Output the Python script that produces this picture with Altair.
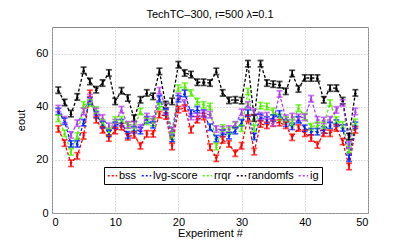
import altair as alt
import pandas as pd

methods = ["bss", "lvg-score", "rrqr", "randomfs", "ig"]
colors = ["#ff0000", "#0022ff", "#55ee00", "#000000", "#b040f0"]
shapes = ["triangle-down", "triangle-up", "triangle-up", "triangle-up", "triangle-up"]

experiments = list(range(1, 49))

bss = [31.6, 26.3, 18.7, 21.5, 29.0, 45.0, 35.1, 31.3, 28.2, 31.0,
       32.5, 28.7, 29.4, 25.3, 29.8, 29.8, 37.0, 36.5, 25.0, 38.9,
       39.5, 31.3, 35.1, 36.3, 24.8, 20.6, 27.5, 26.0, 22.5, 25.3,
       35.7, 23.1, 33.5, 33.0, 33.8, 34.0, 33.0, 28.5, 32.0, 30.0,
       28.2, 25.6, 30.0, 30.0, 32.0, 26.9, 17.5, 31.3]
lvg = [38.2, 34.5, 26.0, 26.0, 34.0, 42.2, 37.0, 33.2, 30.0, 33.0,
       34.0, 29.4, 31.3, 31.0, 35.1, 33.2, 42.9, 38.0, 28.0, 43.0,
       45.0, 37.6, 38.9, 37.6, 32.3, 28.0, 30.0, 29.1, 31.0, 34.0,
       37.6, 28.8, 36.0, 35.0, 35.7, 37.3, 33.8, 32.6, 35.1, 31.9,
       30.6, 30.6, 31.3, 33.0, 33.8, 32.0, 20.6, 33.0]
rrqr = [35.6, 30.0, 23.0, 29.0, 40.7, 41.4, 38.8, 34.1, 30.6, 35.0,
        35.1, 33.0, 32.0, 38.2, 34.5, 34.0, 40.1, 40.0, 29.0, 47.0,
        47.7, 45.2, 42.0, 40.7, 40.1, 25.0, 32.0, 31.0, 33.0, 31.9,
        45.7, 31.9, 40.4, 40.1, 38.2, 36.0, 35.0, 34.0, 39.5, 36.3,
        32.5, 33.0, 33.0, 41.4, 35.0, 33.2, 24.0, 34.1]
randomfs = [46.2, 41.6, 37.4, 43.7, 53.7, 49.5, 46.4, 48.9, 52.7, 42.0,
            46.0, 43.3, 35.7, 42.6, 45.2, 43.9, 53.3, 40.8, 42.0, 55.8,
            52.7, 52.1, 49.2, 49.2, 48.9, 53.3, 45.2, 42.4, 42.6, 42.3,
            56.2, 35.7, 56.2, 48.9, 48.5, 48.3, 45.8, 52.5, 46.7, 50.8,
            50.8, 50.8, 42.6, 47.0, 47.0, 42.3, 28.8, 45.2]
ig = [39.3, 35.1, 29.4, 33.8, 38.2, 43.5, 38.2, 35.8, 32.6, 34.0,
      38.9, 33.2, 33.2, 32.0, 36.3, 35.1, 46.0, 40.0, 31.0, 43.9,
      41.4, 36.3, 36.3, 37.3, 37.0, 31.6, 31.3, 31.6, 33.2, 37.9,
      40.7, 37.9, 36.6, 36.6, 34.0, 44.8, 35.7, 36.3, 36.0, 36.0,
      43.0, 35.1, 34.8, 35.1, 38.8, 41.4, 25.6, 38.2]
err = 1.2

series = [bss, lvg, rrqr, randomfs, ig]
rows = []
for name, vals in zip(methods, series):
    for e, v in zip(experiments, vals):
        rows.append({"exp": e, "method": name, "mk": name, "val": v,
                     "lo": v - err, "hi": v + err})
df = pd.DataFrame(rows)

xs = alt.X("exp:Q", scale=alt.Scale(domain=[0, 50], nice=False),
           axis=alt.Axis(values=[0, 10, 20, 30, 40, 50], title="Experiment #",
                         titlePadding=0, labelPadding=3))
ysc = alt.Scale(domain=[0, 70], nice=False)
yax = alt.Axis(values=[0, 20, 40, 60], title="eout", titlePadding=9, labelPadding=4)

base = alt.Chart(df).encode(x=xs)

line = base.mark_line(strokeDash=[3, 2], strokeWidth=1.3).encode(
    y=alt.Y("val:Q", scale=ysc, axis=yax),
    color=alt.Color("method:N", scale=alt.Scale(domain=methods, range=colors), sort=methods,
                    legend=alt.Legend(title=None, orient="none", legendX=52, legendY=140,
                                      direction="horizontal", symbolType="stroke",
                                      symbolDash=[2, 2], symbolStrokeWidth=1.5,
                                      symbolSize=90, labelFontSize=11,
                                      labelOffset=1, columnPadding=1,
                                      strokeColor="#000000", fillColor="#ffffff",
                                      padding=3, labelFont="Liberation Sans")),
    detail="method:N",
)

mk_col = alt.Color("mk:N", scale=alt.Scale(domain=methods, range=colors), legend=None)

rule = base.mark_rule(strokeWidth=1.7).encode(
    y=alt.Y("lo:Q", scale=ysc), y2="hi:Q", color=mk_col,
)
cap_lo = base.mark_tick(orient="horizontal", size=6, thickness=1.7).encode(
    y=alt.Y("lo:Q", scale=ysc), color=mk_col,
)
cap_hi = base.mark_tick(orient="horizontal", size=6, thickness=1.7).encode(
    y=alt.Y("hi:Q", scale=ysc), color=mk_col,
)
pts = base.mark_point(filled=True, size=10, opacity=1).encode(
    y=alt.Y("val:Q", scale=ysc), color=mk_col,
    shape=alt.Shape("mk:N", scale=alt.Scale(domain=methods, range=shapes), legend=None),
)

marks = alt.layer(rule, cap_lo, cap_hi, pts)

chart = alt.layer(line, marks).resolve_scale(color="independent", shape="independent").properties(
    width=316, height=186,
    title=alt.Title("TechTC–300, r=500 λ=0.1", fontSize=11, fontWeight="normal",
                    font="Liberation Sans", offset=7),
    autosize=alt.AutoSizeParams(type="none"),
    padding={"left": 44, "top": 19, "right": 31, "bottom": 30},
).configure_view(stroke="#888888", strokeWidth=1).configure_axis(
    labelFont="Liberation Sans", titleFont="Liberation Sans",
    labelFontSize=11, titleFontSize=11, titleFontWeight="normal",
    labelColor="#000000", titleColor="#000000",
    grid=True, gridDash=[1, 2], gridColor="#bbbbbb",
    domain=False, ticks=False,
)

chart.save("out.html", embed_options={"renderer": "svg", "actions": False})
